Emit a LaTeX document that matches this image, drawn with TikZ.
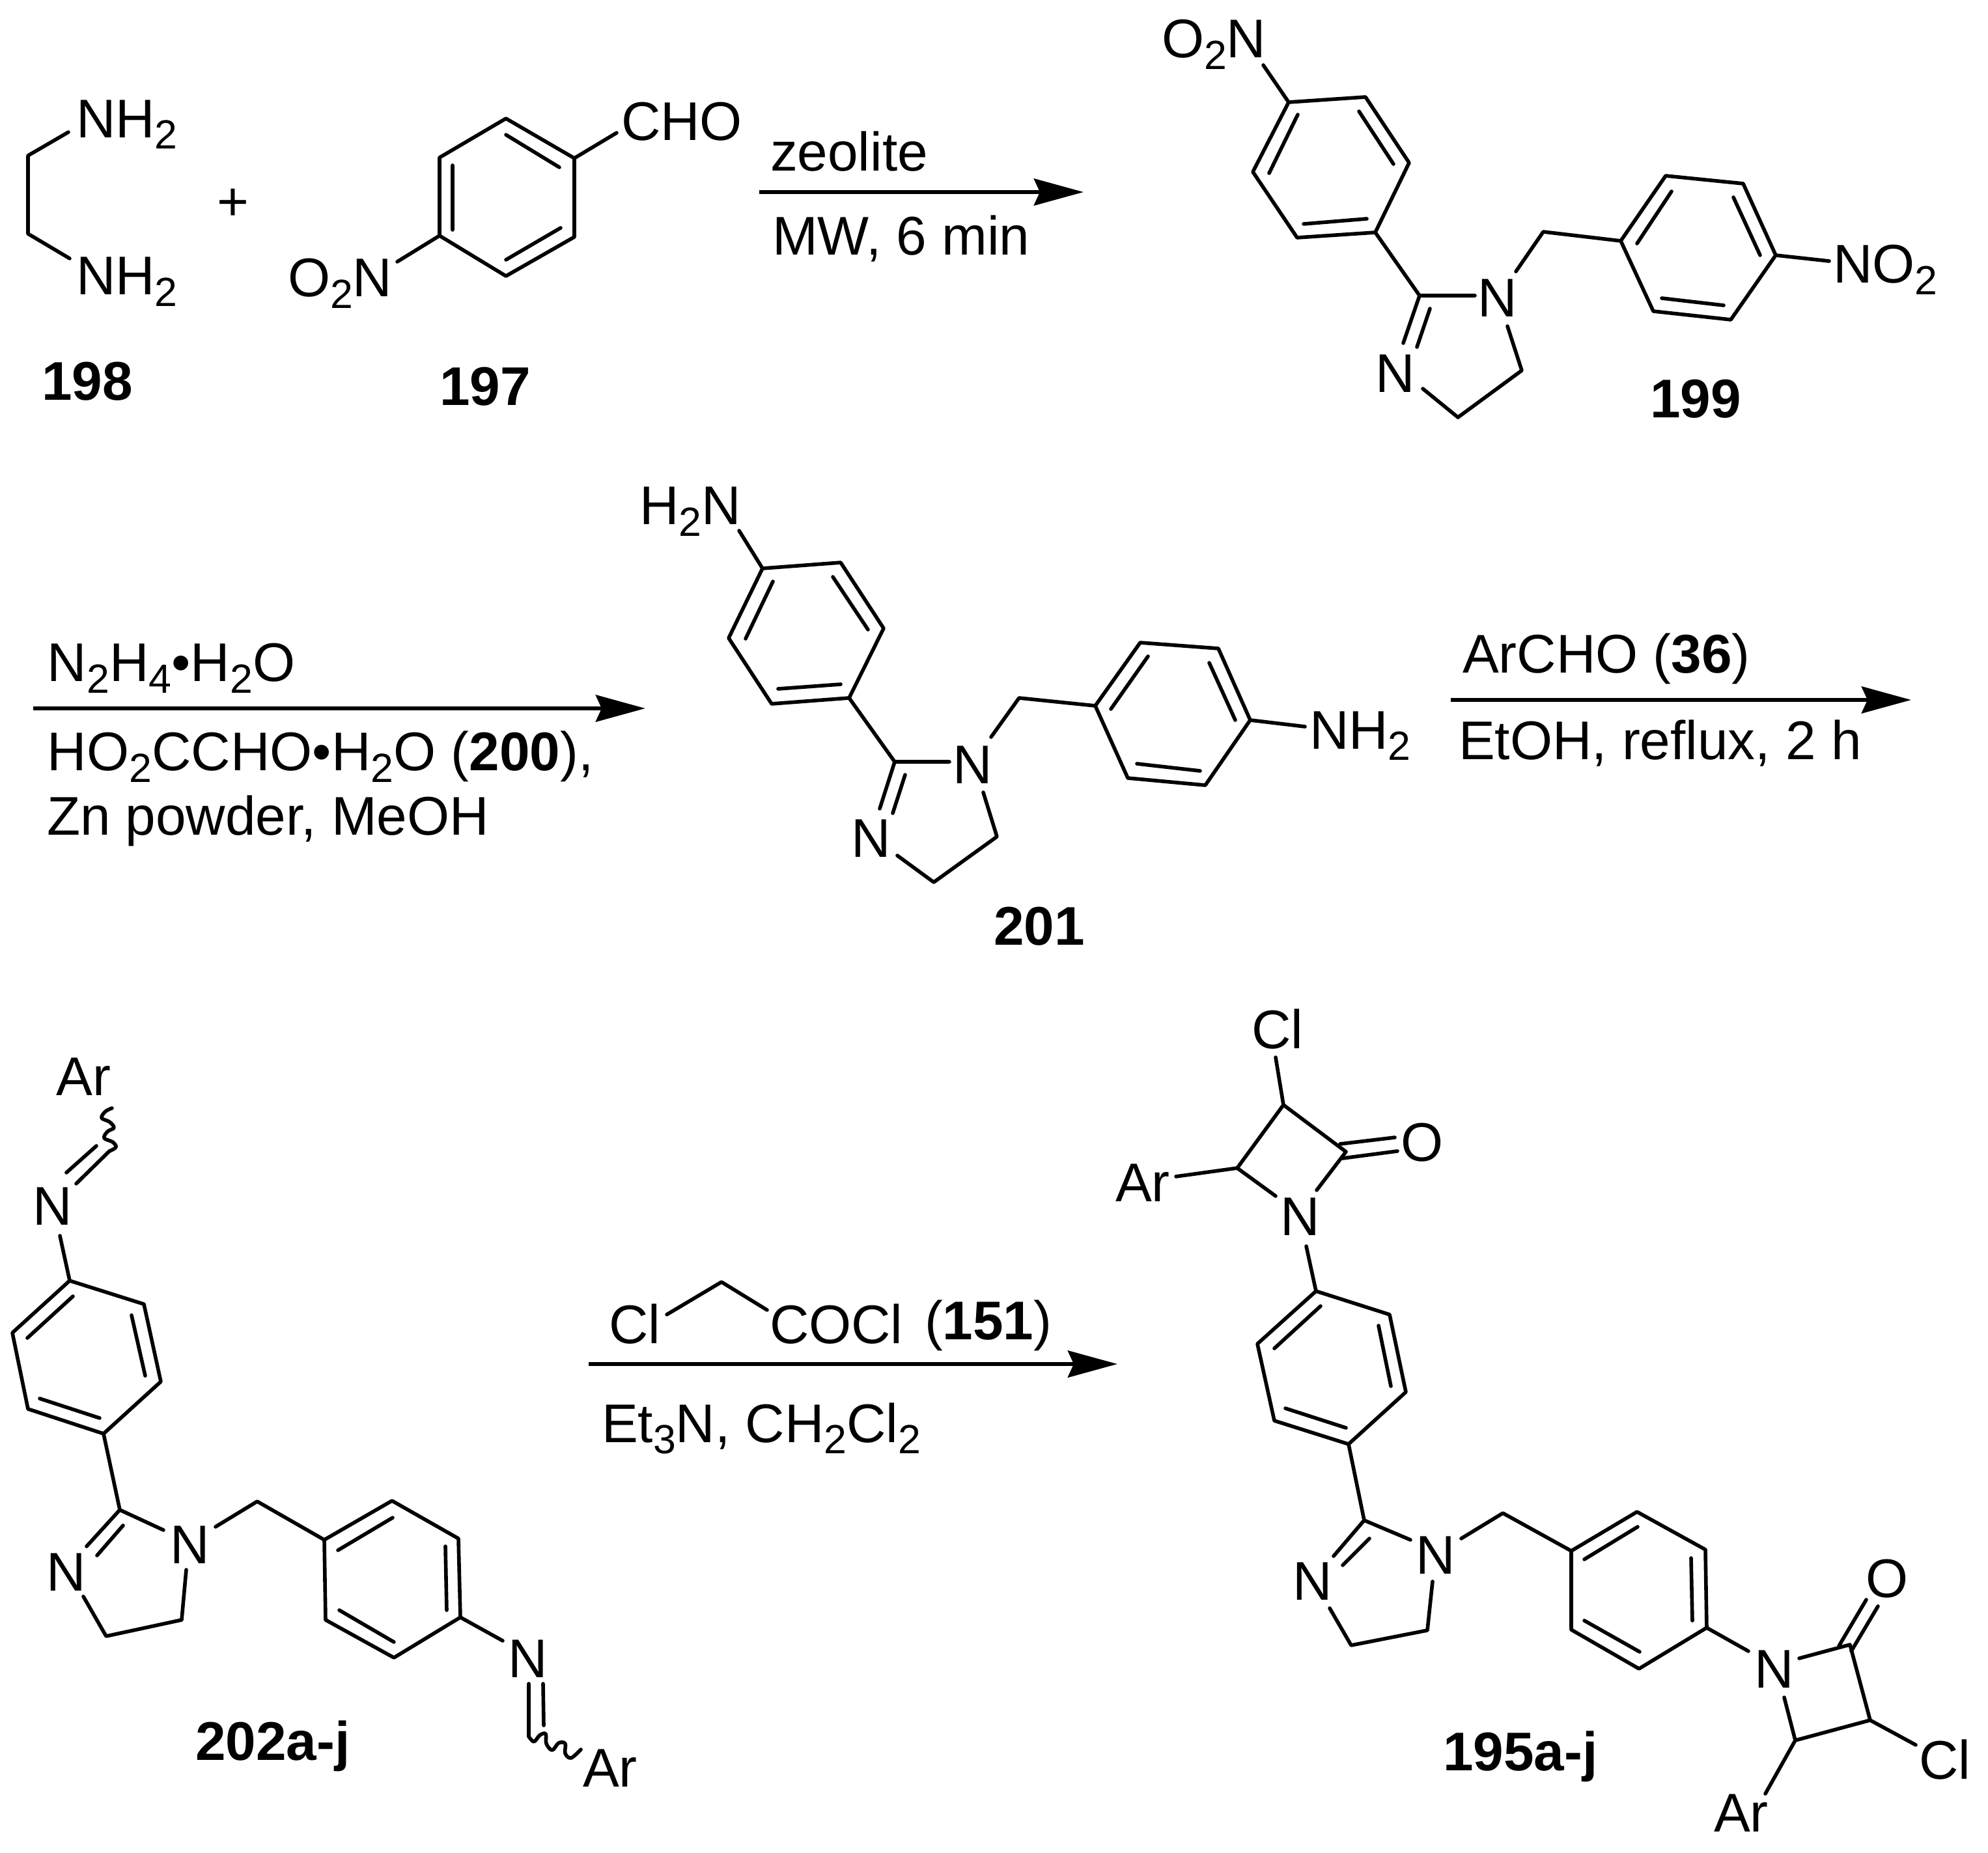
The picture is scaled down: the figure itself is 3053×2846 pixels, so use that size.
\documentclass[tikz,border=0pt]{standalone}
\usepackage{fontspec}
\setmainfont{Liberation Sans}
\usetikzlibrary{arrows.meta}
\newcommand\mainfs{\fontsize{23.8pt}{28pt}\selectfont}
\newcommand\dn[1]{\raisebox{-0.17cm}{\fontsize{17.8pt}{20pt}\selectfont #1}}
\tikzset{
  bond/.style={line width=0.056cm,line cap=round,line join=round},
  rxn/.style={line width=0.064cm,-{Stealth[length=0.76cm,width=0.41cm,inset=0.09cm]}},
  lbl/.style={inner sep=0,outer sep=0,anchor=base west,font=\mainfs},
  atom/.style={inner sep=0,outer sep=0,anchor=base,font=\mainfs},
  cpd/.style={inner sep=0,outer sep=0,anchor=base,font=\mainfs\bfseries},
}
\begin{document}
\begin{tikzpicture}[x=0.01cm,y=-0.01cm]
\useasboundingbox (0,0) rectangle (3053,2846);

% ---------- 198
\draw[bond] (105,203)--(43,239)--(43,359)--(107,397);
\node[lbl] (nh2a) at (117,212) {NH\dn{2}};
\node[lbl] (nh2b) at (117,453) {NH\dn{2}};
\node[atom] (plus) at (358,339) {+};
\node[cpd] (n198) at (134,615) {198};

% ---------- 197
\draw[bond] (777,182)--(882,243)--(882,364)--(777,424)--(675,362)--(675,242)--cycle;
\draw[bond] (777,207)--(859,257) (695,254)--(695,353) (861,350)--(777,399);
\draw[bond] (882,243)--(947,204) (675,362)--(610,402);
\node[lbl] (cho) at (954,216) {CHO};
\node[lbl] (o2na) at (442,456) {O\dn{2}N};
\node[cpd] (n197) at (745,623) {197};

% ---------- arrow 1
\coordinate (a1s) at (1166,295); \coordinate (a1e) at (1664,295);
\draw[rxn] (a1s)--(a1e);
\node[lbl] (zeo) at (1183,263) {zeolite};
\node[lbl] (mw) at (1186,392) {MW, 6 min};

% ---------- 199
\draw[bond] (1940,100)--(1979,157);
\draw[bond] (1979,157)--(2097,149)--(2164,250)--(2112,357)--(1992,365)--(1924,264)--cycle;
\draw[bond] (2087,171)--(2140,252) (1993,176)--(1949,266) (2002,344)--(2099,336);
\draw[bond] (2112,357)--(2180,454)--(2265,454);
\draw[bond] (2180,454)--(2155,527) (2196,474)--(2176,533);
\draw[bond] (2185,597)--(2239,641)--(2337,569)--(2315,501);
\draw[bond] (2328,417)--(2370,356)--(2489,370);
\draw[bond] (2489,370)--(2558,270)--(2677,282)--(2727,392)--(2658,491)--(2539,478)--cycle;
\draw[bond] (2567,294)--(2514,374) (2662,303)--(2703,392) (2647,469)--(2552,458);
\draw[bond] (2727,392)--(2809,401);
\node[lbl] (o2nb) at (1784,89) {O\dn{2}N};
\node[atom] (n199a) at (2300,487) {N};
\node[atom] (n199b) at (2143,603) {N};
\node[lbl] (no2) at (2815,435) {NO\dn{2}};
\node[cpd] (n199) at (2604,642) {199};

% ---------- arrow 2
\coordinate (a2s) at (51,1088); \coordinate (a2e) at (991,1088);
\draw[rxn] (a2s)--(a2e);
\node[lbl] (r2a) at (73,1047) {N\dn{2}H\dn{4}•H\dn{2}O};
\node[lbl] (r2b) at (73,1184) {HO\dn{2}CCHO•H\dn{2}O (\textbf{200}),};
\node[lbl] (r2c) at (72,1283) {Zn powder, MeOH};

% ---------- 201
\draw[bond] (1135,815)--(1171,873);
\draw[bond] (1171,873)--(1291,864)--(1357,965)--(1304,1072)--(1185,1081)--(1119,980)--cycle;
\draw[bond] (1279,886)--(1333,967) (1187,893)--(1145,981) (1195,1058)--(1291,1051);
\draw[bond] (1304,1072)--(1374,1170)--(1458,1170);
\draw[bond] (1374,1170)--(1351,1242) (1390,1190)--(1371,1249);
\draw[bond] (1378,1314)--(1434,1355)--(1531,1285)--(1510,1217);
\draw[bond] (1522,1132)--(1565,1072)--(1682,1084);
\draw[bond] (1682,1084)--(1751,987)--(1871,996)--(1920,1106)--(1851,1206)--(1732,1195)--cycle;
\draw[bond] (1763,1008)--(1706,1089) (1857,1018)--(1897,1106) (1843,1184)--(1746,1173);
\draw[bond] (1920,1106)--(2004,1116);
\node[lbl] (h2n) at (982,806) {H\dn{2}N};
\node[atom] (n201a) at (1494,1203) {N};
\node[atom] (n201b) at (1338,1317) {N};
\node[lbl] (nh2c) at (2011,1150) {NH\dn{2}};
\node[cpd] (n201) at (1596,1451) {201};

% ---------- arrow 3
\coordinate (a3s) at (2228,1075); \coordinate (a3e) at (2935,1075);
\draw[rxn] (a3s)--(a3e);
\node[lbl] (r3a) at (2246,1034) {ArCHO (\textbf{36})};
\node[lbl] (r3b) at (2240,1167) {EtOH, reflux, 2 h};

% ---------- 202a-j
\draw[bond] (92,1898)--(107,1967);
\draw[bond] (107,1967)--(221,2003)--(247,2122)--(159,2202)--(43,2164)--(19,2047)--cycle;
\draw[bond] (112,1991)--(42,2055) (202,2020)--(223,2113) (61,2148)--(153,2178);
\draw[bond] (159,2202)--(184,2319)--(251,2350);
\draw[bond] (184,2319)--(133,2375) (189,2343)--(149,2389);
\draw[bond] (128,2452)--(163,2513)--(279,2488)--(286,2411);
\draw[bond] (331,2345)--(395,2306)--(498,2365);
\draw[bond] (498,2365)--(602,2305)--(704,2363)--(707,2484)--(605,2546)--(500,2488)--cycle;
\draw[bond] (519,2381)--(603,2331) (684,2375)--(686,2473) (521,2473)--(605,2522);
\draw[bond] (707,2484)--(772,2520);
\draw[bond] (148,1760)--(102,1801) (168,1768)--(117,1818);
\draw[bond] plot[smooth,tension=0.6] coordinates {(168,1768)(178,1762)(173,1754)(160,1748)(165,1738)(175,1732)(168,1723)(156,1717)(162,1707)(172,1702)};
\draw[bond] (812,2586)--(812,2667) (834,2586)--(835,2650);
\draw[bond] plot[smooth,tension=0.6] coordinates {(812,2667)(820,2675)(829,2665)(838,2663)(839,2678)(848,2688)(858,2677)(868,2678)(868,2693)(877,2700)(892,2687)};
\node[lbl] (ar1) at (87,1682) {Ar};
\node[atom] (n202a) at (81,1881) {N};
\node[atom] (n202b) at (292,2401) {N};
\node[atom] (n202c) at (102,2443) {N};
\node[atom] (n202d) at (811,2576) {N};
\node[lbl] (ar2) at (895,2744) {Ar};
\node[cpd] (n202) at (419,2703) {202a-j};

% ---------- arrow 4
\coordinate (a4s) at (904,2095); \coordinate (a4e) at (1716,2095);
\draw[rxn] (a4s)--(a4e);
\draw[bond] (1024,2019)--(1108,1969)--(1178,2012);
\node[lbl] (r4a) at (935,2063) {Cl};
\node[lbl] (r4b) at (1182,2063) {COCl};
\node[lbl] (r4c) at (1420,2057) {(\textbf{151})};
\node[lbl] (r4d) at (924,2215) {Et\dn{3}N, CH\dn{2}Cl\dn{2}};

% ---------- 195a-j
\draw[bond] (1959,1624)--(1971,1697);
\draw[bond] (1959,1837)--(1900,1794)--(1971,1697)--(2067,1769)--(2022,1828);
\draw[bond] (1806,1807)--(1900,1794);
\draw[bond] (2058,1757)--(2142,1747) (2062,1779)--(2146,1768);
\draw[bond] (2006,1914)--(2021,1983);
\draw[bond] (2021,1983)--(2134,2019)--(2159,2138)--(2071,2218)--(1957,2182)--(1931,2064)--cycle;
\draw[bond] (2028,2006)--(1957,2071) (2117,2036)--(2136,2129) (1974,2163)--(2067,2193);
\draw[bond] (2071,2218)--(2095,2335)--(2166,2365);
\draw[bond] (2095,2335)--(2048,2390) (2103,2363)--(2062,2404);
\draw[bond] (2042,2470)--(2075,2527)--(2192,2504)--(2200,2429);
\draw[bond] (2244,2363)--(2308,2324)--(2413,2382);
\draw[bond] (2413,2382)--(2514,2322)--(2619,2380)--(2621,2500)--(2517,2563)--(2413,2503)--cycle;
\draw[bond] (2433,2395)--(2515,2345) (2597,2393)--(2599,2489) (2433,2489)--(2518,2537);
\draw[bond] (2621,2500)--(2685,2536);
\draw[bond] (2763,2547)--(2841,2526)--(2872,2642)--(2757,2673)--(2740,2607);
\draw[bond] (2824,2528)--(2866,2457) (2843,2536)--(2884,2467);
\draw[bond] (2872,2642)--(2942,2680);
\draw[bond] (2757,2673)--(2711,2755);
\node[lbl] (cl1) at (1922,1610) {Cl};
\node[lbl] (ar3) at (1713,1845) {Ar};
\node[lbl] (o1) at (2151,1783) {O};
\node[atom] (n195a) at (1997,1897) {N};
\node[atom] (n195b) at (2205,2417) {N};
\node[atom] (n195c) at (2016,2457) {N};
\node[atom] (n195d) at (2725,2592) {N};
\node[lbl] (o2) at (2865,2453) {O};
\node[lbl] (cl2) at (2947,2732) {Cl};
\node[lbl] (ar4) at (2632,2813) {Ar};
\node[cpd] (n195) at (2335,2719) {195a-j};
\end{tikzpicture}
\end{document}
